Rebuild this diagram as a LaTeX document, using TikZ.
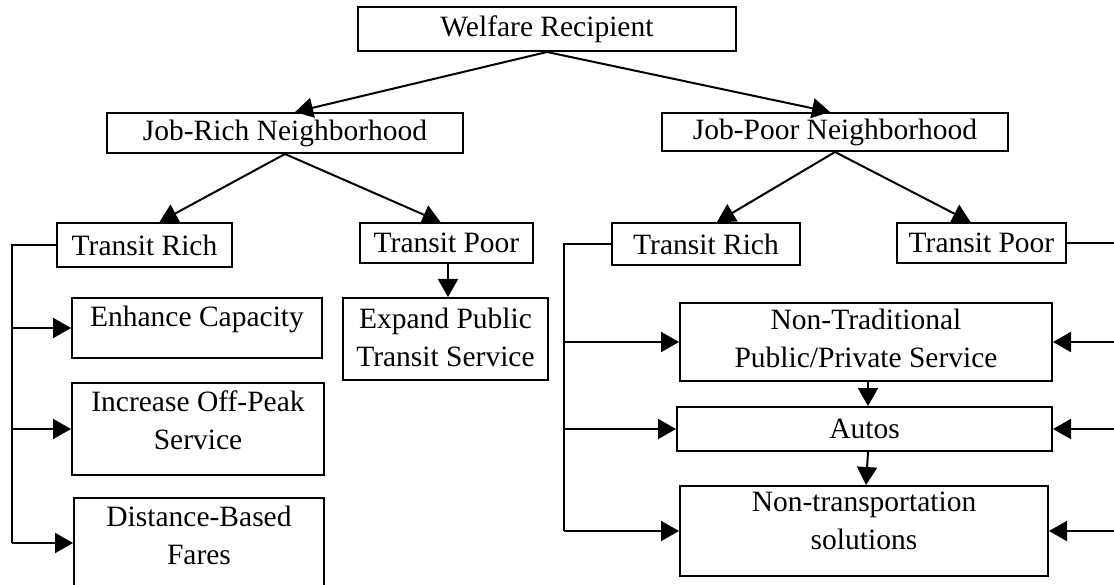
\documentclass[tikz,border=0pt]{standalone}
\usepackage{fontspec}
\setmainfont{Liberation Serif}
\usetikzlibrary{arrows.meta,calc}
\begin{document}
\begin{tikzpicture}[x=1pt,y=-1pt,
  myfont/.style={font=\fontsize{29.5}{37.5}\selectfont},
  box/.style={draw, line width=2pt, rectangle, inner sep=0pt, myfont},
  txt/.style={inner sep=0pt, align=center, anchor=north, myfont},
  arr/.style={line width=2pt, -{Triangle[length=18pt,width=20pt]}},
  ln/.style={line width=2pt}]
\useasboundingbox (0,0) rectangle (1114,585);
% level 0
\node[box, minimum width=378pt, minimum height=44pt] (wr) at (547,29) {Welfare Recipient};
% level 1
\node[box, minimum width=356pt, minimum height=40pt] (jr) at (285,133) {Job-Rich Neighborhood};
\node[box, minimum width=346pt, minimum height=38pt] (jp) at (835,132) {Job-Poor Neighborhood};
% level 2
\node[box, minimum width=175pt, minimum height=44pt] (trL) at (144.5,245) {Transit Rich};
\node[box, minimum width=173pt, minimum height=40pt] (tpL) at (446.5,243) {Transit Poor};
\node[box, minimum width=188pt, minimum height=42pt] (trR) at (706,244) {Transit Rich};
\node[box, minimum width=169pt, minimum height=40pt] (tpR) at (981.5,243) {Transit Poor};
% left leaves
\node[box, minimum width=250pt, minimum height=60pt] (ec) at (197,328) {};
\node[txt] (ect) at ($(ec.north)+(0,9)$) {Enhance Capacity};
\node[box, minimum width=252pt, minimum height=92pt] (io) at (198,429) {};
\node[txt] (iot) at ($(io.north)+(0,9)$) {Increase Off-Peak\\Service};
\node[box, minimum width=250pt, minimum height=102pt] (db) at (199,549) {};
\node[txt] (dbt) at ($(db.north)+(0,9)$) {Distance-Based\\Fares};
\node[box, minimum width=205pt, minimum height=82pt] (ep) at (445.5,339) {};
\node[txt] (ept) at ($(ep.north)+(0,11)$) {Expand Public\\Transit Service};
% right leaves
\node[box, minimum width=372pt, minimum height=78pt] (nt) at (866,342) {};
\node[txt] (ntt) at ($(nt.north)+(0,7)$) {Non-Traditional\\Public/Private Service};
\node[box, minimum width=375pt, minimum height=44pt] (au) at (864.5,429) {Autos};
\node[box, minimum width=368pt, minimum height=90pt] (ns) at (864,531) {};
\node[txt] (nst) at ($(ns.north)+(0,7)$) {Non-transportation\\solutions};
% tree arrows
\draw[arr] (wr.south) -- ([xshift=10pt]jr.north);
\draw[arr] (wr.south) -- ([xshift=-5pt]jp.north);
\draw[arr] (jr.south) -- ([xshift=15pt]trL.north);
\draw[arr] (jr.south) -- ([xshift=-6pt]tpL.north);
\draw[arr] (jp.south) -- ([xshift=11pt]trR.north);
\draw[arr] (jp.south) -- ([xshift=-11pt]tpR.north);
\draw[arr] ([xshift=1.5pt]tpL.south) -- ([xshift=1.5pt]tpL.south |- ep.north);
\draw[arr] ([xshift=2pt]nt.south) -- ([xshift=2pt]nt.south |- au.north);
\draw[arr] ([xshift=3.5pt]au.south) -- ([xshift=2pt]ns.north);
% left bracket
\coordinate (cL) at (12,543);
\draw[ln] (trL.west) -| (cL);
\draw[arr] (cL |- ec.west) -- (ec.west);
\draw[arr] (cL |- io.west) -- (io.west);
\draw[arr] (cL) -- (cL -| db.west);
% right-side left bracket
\coordinate (cR) at (564,531);
\draw[ln] (trR.west) -| (cR);
\draw[arr] (cR |- nt.west) -- (nt.west);
\draw[arr] (cR |- au.west) -- (au.west);
\draw[arr] (cR) -- (ns.west);
% right-side right bracket
\coordinate (cE) at (1120,531);
\draw[ln] (tpR.east) -| (cE);
\draw[arr] (cE |- nt.east) -- (nt.east);
\draw[arr] (cE |- au.east) -- (au.east);
\draw[arr] (cE) -- (ns.east);
\end{tikzpicture}
\end{document}
